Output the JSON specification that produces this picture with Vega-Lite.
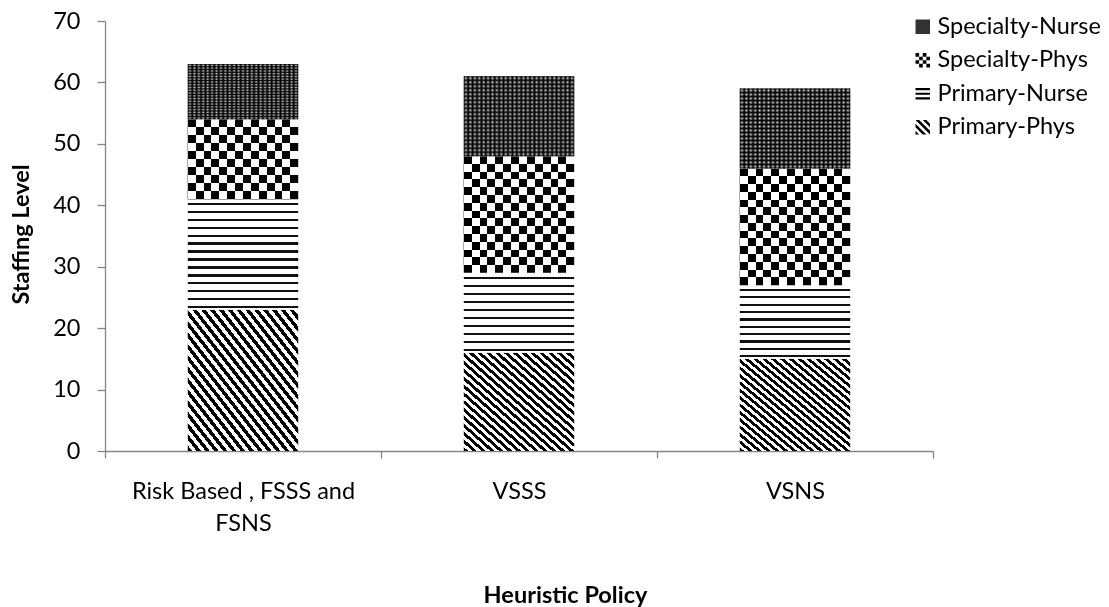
{
  "$schema": "https://vega.github.io/schema/vega-lite/v6.json",
  "autosize": "none",
  "width": 828,
  "height": 430,
  "padding": {"left": 105, "top": 21, "right": 176, "bottom": 156},
  "background": "white",
  "config": {
    "view": {"stroke": null},
    "font": "Lato",
    "axis": {
      "grid": false,
      "labelColor": "#000000",
      "titleColor": "#000000",
      "labelFont": "Lato",
      "titleFont": "Lato",
      "labelFontSize": 23.5,
      "titleFontSize": 23.5,
      "titleFontWeight": "bold",
      "domainColor": "#868686",
      "domainWidth": 1.3,
      "tickColor": "#868686",
      "tickWidth": 1.3,
      "labelFlush": false,
      "labelOverlap": false,
      "labelLimit": 0
    },
    "legend": {"labelFont": "Lato", "labelColor": "#000000"}
  },
  "data": {
    "values": [
      {"policy": "Risk Based , FSSS and FSNS", "series": "Primary-Phys", "value": 23},
      {"policy": "Risk Based , FSSS and FSNS", "series": "Primary-Nurse", "value": 18},
      {"policy": "Risk Based , FSSS and FSNS", "series": "Specialty-Phys", "value": 13},
      {"policy": "Risk Based , FSSS and FSNS", "series": "Specialty-Nurse", "value": 9},
      {"policy": "VSSS", "series": "Primary-Phys", "value": 16},
      {"policy": "VSSS", "series": "Primary-Nurse", "value": 13},
      {"policy": "VSSS", "series": "Specialty-Phys", "value": 19},
      {"policy": "VSSS", "series": "Specialty-Nurse", "value": 13},
      {"policy": "VSNS", "series": "Primary-Phys", "value": 15},
      {"policy": "VSNS", "series": "Primary-Nurse", "value": 12},
      {"policy": "VSNS", "series": "Specialty-Phys", "value": 19},
      {"policy": "VSNS", "series": "Specialty-Nurse", "value": 13}
    ]
  },
  "transform": [
    {"stack": "value", "groupby": ["policy"], "as": ["lo", "hi"]}
  ],
  "encoding": {
    "x": {
      "field": "policy",
      "type": "nominal",
      "sort": null,
      "scale": {"paddingInner": 0, "paddingOuter": 0},
      "axis": {
        "title": "Heuristic Policy",
        "titleX": 460,
        "titleY": 151,
        "titleAlign": "center",
        "titleBaseline": "alphabetic",
        "titleAngle": 0,
        "labelAngle": 0,
        "labelBaseline": "alphabetic",
        "labelPadding": 40,
        "labelLineHeight": 32,
        "labelExpr": "datum.label == 'Risk Based , FSSS and FSNS' ? ['Risk Based , FSSS and', 'FSNS'] : datum.label",
        "tickBand": "extent",
        "tickSize": 7
      }
    },
    "y": {
      "field": "lo",
      "type": "quantitative",
      "scale": {"domain": [0, 70], "nice": false},
      "axis": {
        "title": "Staffing Level",
        "titleX": -77,
        "titleY": 213,
        "titleAngle": -90,
        "titleAlign": "center",
        "titleBaseline": "alphabetic",
        "values": [0, 10, 20, 30, 40, 50, 60, 70],
        "tickSize": 8,
        "labelPadding": 17
      }
    }
  },
  "layer": [
    {
      "mark": {"type": "bar", "width": {"band": 0.4}},
      "encoding": {
        "y2": {"field": "hi"},
        "fill": {
          "condition": [
            {
              "test": "datum.series === 'Primary-Phys'",
              "value": {"gradient": "linear", "x1": 0, "y1": 1, "x2": 1, "y2": 0, "stops": [
                {"offset": 0, "color": "#000000"}, {"offset": 0.02, "color": "#000000"}, {"offset": 0.02, "color": "#ffffff"}, {"offset": 0.04, "color": "#ffffff"},
                {"offset": 0.04, "color": "#000000"}, {"offset": 0.06, "color": "#000000"}, {"offset": 0.06, "color": "#ffffff"}, {"offset": 0.08, "color": "#ffffff"},
                {"offset": 0.08, "color": "#000000"}, {"offset": 0.10, "color": "#000000"}, {"offset": 0.10, "color": "#ffffff"}, {"offset": 0.12, "color": "#ffffff"},
                {"offset": 0.12, "color": "#000000"}, {"offset": 0.14, "color": "#000000"}, {"offset": 0.14, "color": "#ffffff"}, {"offset": 0.16, "color": "#ffffff"},
                {"offset": 0.16, "color": "#000000"}, {"offset": 0.18, "color": "#000000"}, {"offset": 0.18, "color": "#ffffff"}, {"offset": 0.20, "color": "#ffffff"},
                {"offset": 0.20, "color": "#000000"}, {"offset": 0.22, "color": "#000000"}, {"offset": 0.22, "color": "#ffffff"}, {"offset": 0.24, "color": "#ffffff"},
                {"offset": 0.24, "color": "#000000"}, {"offset": 0.26, "color": "#000000"}, {"offset": 0.26, "color": "#ffffff"}, {"offset": 0.28, "color": "#ffffff"},
                {"offset": 0.28, "color": "#000000"}, {"offset": 0.30, "color": "#000000"}, {"offset": 0.30, "color": "#ffffff"}, {"offset": 0.32, "color": "#ffffff"},
                {"offset": 0.32, "color": "#000000"}, {"offset": 0.34, "color": "#000000"}, {"offset": 0.34, "color": "#ffffff"}, {"offset": 0.36, "color": "#ffffff"},
                {"offset": 0.36, "color": "#000000"}, {"offset": 0.38, "color": "#000000"}, {"offset": 0.38, "color": "#ffffff"}, {"offset": 0.40, "color": "#ffffff"},
                {"offset": 0.40, "color": "#000000"}, {"offset": 0.42, "color": "#000000"}, {"offset": 0.42, "color": "#ffffff"}, {"offset": 0.44, "color": "#ffffff"},
                {"offset": 0.44, "color": "#000000"}, {"offset": 0.46, "color": "#000000"}, {"offset": 0.46, "color": "#ffffff"}, {"offset": 0.48, "color": "#ffffff"},
                {"offset": 0.48, "color": "#000000"}, {"offset": 0.50, "color": "#000000"}, {"offset": 0.50, "color": "#ffffff"}, {"offset": 0.52, "color": "#ffffff"},
                {"offset": 0.52, "color": "#000000"}, {"offset": 0.54, "color": "#000000"}, {"offset": 0.54, "color": "#ffffff"}, {"offset": 0.56, "color": "#ffffff"},
                {"offset": 0.56, "color": "#000000"}, {"offset": 0.58, "color": "#000000"}, {"offset": 0.58, "color": "#ffffff"}, {"offset": 0.60, "color": "#ffffff"},
                {"offset": 0.60, "color": "#000000"}, {"offset": 0.62, "color": "#000000"}, {"offset": 0.62, "color": "#ffffff"}, {"offset": 0.64, "color": "#ffffff"},
                {"offset": 0.64, "color": "#000000"}, {"offset": 0.66, "color": "#000000"}, {"offset": 0.66, "color": "#ffffff"}, {"offset": 0.68, "color": "#ffffff"},
                {"offset": 0.68, "color": "#000000"}, {"offset": 0.70, "color": "#000000"}, {"offset": 0.70, "color": "#ffffff"}, {"offset": 0.72, "color": "#ffffff"},
                {"offset": 0.72, "color": "#000000"}, {"offset": 0.74, "color": "#000000"}, {"offset": 0.74, "color": "#ffffff"}, {"offset": 0.76, "color": "#ffffff"},
                {"offset": 0.76, "color": "#000000"}, {"offset": 0.78, "color": "#000000"}, {"offset": 0.78, "color": "#ffffff"}, {"offset": 0.80, "color": "#ffffff"},
                {"offset": 0.80, "color": "#000000"}, {"offset": 0.82, "color": "#000000"}, {"offset": 0.82, "color": "#ffffff"}, {"offset": 0.84, "color": "#ffffff"},
                {"offset": 0.84, "color": "#000000"}, {"offset": 0.86, "color": "#000000"}, {"offset": 0.86, "color": "#ffffff"}, {"offset": 0.88, "color": "#ffffff"},
                {"offset": 0.88, "color": "#000000"}, {"offset": 0.90, "color": "#000000"}, {"offset": 0.90, "color": "#ffffff"}, {"offset": 0.92, "color": "#ffffff"},
                {"offset": 0.92, "color": "#000000"}, {"offset": 0.94, "color": "#000000"}, {"offset": 0.94, "color": "#ffffff"}, {"offset": 0.96, "color": "#ffffff"},
                {"offset": 0.96, "color": "#000000"}, {"offset": 0.98, "color": "#000000"}, {"offset": 0.98, "color": "#ffffff"}, {"offset": 1, "color": "#ffffff"}]}
            },
            {
              "test": "datum.series === 'Primary-Nurse' && datum.policy === 'Risk Based , FSSS and FSNS'",
              "value": {"gradient": "linear", "x1": 0, "y1": 0, "x2": 0, "y2": 1, "stops": [
                {"offset": 0, "color": "#ffffff"}, {"offset": 0.035, "color": "#ffffff"}, {"offset": 0.035, "color": "#111111"}, {"offset": 0.057, "color": "#111111"},
                {"offset": 0.057, "color": "#ffffff"}, {"offset": 0.1064, "color": "#ffffff"}, {"offset": 0.1064, "color": "#111111"}, {"offset": 0.1284, "color": "#111111"},
                {"offset": 0.1284, "color": "#ffffff"}, {"offset": 0.1779, "color": "#ffffff"}, {"offset": 0.1779, "color": "#111111"}, {"offset": 0.1999, "color": "#111111"},
                {"offset": 0.1999, "color": "#ffffff"}, {"offset": 0.2493, "color": "#ffffff"}, {"offset": 0.2493, "color": "#111111"}, {"offset": 0.2713, "color": "#111111"},
                {"offset": 0.2713, "color": "#ffffff"}, {"offset": 0.3207, "color": "#ffffff"}, {"offset": 0.3207, "color": "#111111"}, {"offset": 0.3427, "color": "#111111"},
                {"offset": 0.3427, "color": "#ffffff"}, {"offset": 0.3921, "color": "#ffffff"}, {"offset": 0.3921, "color": "#111111"}, {"offset": 0.4141, "color": "#111111"},
                {"offset": 0.4141, "color": "#ffffff"}, {"offset": 0.4636, "color": "#ffffff"}, {"offset": 0.4636, "color": "#111111"}, {"offset": 0.4856, "color": "#111111"},
                {"offset": 0.4856, "color": "#ffffff"}, {"offset": 0.5350, "color": "#ffffff"}, {"offset": 0.5350, "color": "#111111"}, {"offset": 0.5570, "color": "#111111"},
                {"offset": 0.5570, "color": "#ffffff"}, {"offset": 0.6064, "color": "#ffffff"}, {"offset": 0.6064, "color": "#111111"}, {"offset": 0.6284, "color": "#111111"},
                {"offset": 0.6284, "color": "#ffffff"}, {"offset": 0.6779, "color": "#ffffff"}, {"offset": 0.6779, "color": "#111111"}, {"offset": 0.6999, "color": "#111111"},
                {"offset": 0.6999, "color": "#ffffff"}, {"offset": 0.7493, "color": "#ffffff"}, {"offset": 0.7493, "color": "#111111"}, {"offset": 0.7713, "color": "#111111"},
                {"offset": 0.7713, "color": "#ffffff"}, {"offset": 0.8207, "color": "#ffffff"}, {"offset": 0.8207, "color": "#111111"}, {"offset": 0.8427, "color": "#111111"},
                {"offset": 0.8427, "color": "#ffffff"}, {"offset": 0.8921, "color": "#ffffff"}, {"offset": 0.8921, "color": "#111111"}, {"offset": 0.9141, "color": "#111111"},
                {"offset": 0.9141, "color": "#ffffff"}, {"offset": 0.9636, "color": "#ffffff"}, {"offset": 0.9636, "color": "#111111"}, {"offset": 0.9856, "color": "#111111"},
                {"offset": 0.9856, "color": "#ffffff"}, {"offset": 1, "color": "#ffffff"}]}
            },
            {
              "test": "datum.series === 'Primary-Nurse'",
              "value": {"gradient": "linear", "x1": 0, "y1": 0, "x2": 0, "y2": 1, "stops": [
                {"offset": 0, "color": "#ffffff"}, {"offset": 0.05, "color": "#ffffff"}, {"offset": 0.05, "color": "#111111"}, {"offset": 0.08, "color": "#111111"},
                {"offset": 0.08, "color": "#ffffff"}, {"offset": 0.15, "color": "#ffffff"}, {"offset": 0.15, "color": "#111111"}, {"offset": 0.18, "color": "#111111"},
                {"offset": 0.18, "color": "#ffffff"}, {"offset": 0.25, "color": "#ffffff"}, {"offset": 0.25, "color": "#111111"}, {"offset": 0.28, "color": "#111111"},
                {"offset": 0.28, "color": "#ffffff"}, {"offset": 0.35, "color": "#ffffff"}, {"offset": 0.35, "color": "#111111"}, {"offset": 0.38, "color": "#111111"},
                {"offset": 0.38, "color": "#ffffff"}, {"offset": 0.45, "color": "#ffffff"}, {"offset": 0.45, "color": "#111111"}, {"offset": 0.48, "color": "#111111"},
                {"offset": 0.48, "color": "#ffffff"}, {"offset": 0.55, "color": "#ffffff"}, {"offset": 0.55, "color": "#111111"}, {"offset": 0.58, "color": "#111111"},
                {"offset": 0.58, "color": "#ffffff"}, {"offset": 0.65, "color": "#ffffff"}, {"offset": 0.65, "color": "#111111"}, {"offset": 0.68, "color": "#111111"},
                {"offset": 0.68, "color": "#ffffff"}, {"offset": 0.75, "color": "#ffffff"}, {"offset": 0.75, "color": "#111111"}, {"offset": 0.78, "color": "#111111"},
                {"offset": 0.78, "color": "#ffffff"}, {"offset": 0.85, "color": "#ffffff"}, {"offset": 0.85, "color": "#111111"}, {"offset": 0.88, "color": "#111111"},
                {"offset": 0.88, "color": "#ffffff"}, {"offset": 0.95, "color": "#ffffff"}, {"offset": 0.95, "color": "#111111"}, {"offset": 0.98, "color": "#111111"},
                {"offset": 0.98, "color": "#ffffff"}, {"offset": 1, "color": "#ffffff"}]}
            },
            {
              "test": "datum.series === 'Specialty-Phys' && datum.policy === 'Risk Based , FSSS and FSNS'",
              "value": {"gradient": "linear", "x1": 0, "y1": 0, "x2": 0, "y2": 1, "stops": [
                {"offset": 0, "color": "#ffffff"}, {"offset": 0.1, "color": "#ffffff"}, {"offset": 0.1, "color": "#000000"}, {"offset": 0.2, "color": "#000000"},
                {"offset": 0.2, "color": "#ffffff"}, {"offset": 0.3, "color": "#ffffff"}, {"offset": 0.3, "color": "#000000"}, {"offset": 0.4, "color": "#000000"},
                {"offset": 0.4, "color": "#ffffff"}, {"offset": 0.5, "color": "#ffffff"}, {"offset": 0.5, "color": "#000000"}, {"offset": 0.6, "color": "#000000"},
                {"offset": 0.6, "color": "#ffffff"}, {"offset": 0.7, "color": "#ffffff"}, {"offset": 0.7, "color": "#000000"}, {"offset": 0.8, "color": "#000000"},
                {"offset": 0.8, "color": "#ffffff"}, {"offset": 0.9, "color": "#ffffff"}, {"offset": 0.9, "color": "#000000"}, {"offset": 1, "color": "#000000"}]}
            },
            {
              "test": "datum.series === 'Specialty-Phys'",
              "value": {"gradient": "linear", "x1": 0, "y1": 0, "x2": 0, "y2": 1, "stops": [
                {"offset": 0, "color": "#ffffff"}, {"offset": 0.0667, "color": "#ffffff"}, {"offset": 0.0667, "color": "#000000"}, {"offset": 0.1333, "color": "#000000"},
                {"offset": 0.1333, "color": "#ffffff"}, {"offset": 0.2, "color": "#ffffff"}, {"offset": 0.2, "color": "#000000"}, {"offset": 0.2667, "color": "#000000"},
                {"offset": 0.2667, "color": "#ffffff"}, {"offset": 0.3333, "color": "#ffffff"}, {"offset": 0.3333, "color": "#000000"}, {"offset": 0.4, "color": "#000000"},
                {"offset": 0.4, "color": "#ffffff"}, {"offset": 0.4667, "color": "#ffffff"}, {"offset": 0.4667, "color": "#000000"}, {"offset": 0.5333, "color": "#000000"},
                {"offset": 0.5333, "color": "#ffffff"}, {"offset": 0.6, "color": "#ffffff"}, {"offset": 0.6, "color": "#000000"}, {"offset": 0.6667, "color": "#000000"},
                {"offset": 0.6667, "color": "#ffffff"}, {"offset": 0.7333, "color": "#ffffff"}, {"offset": 0.7333, "color": "#000000"}, {"offset": 0.8, "color": "#000000"},
                {"offset": 0.8, "color": "#ffffff"}, {"offset": 0.8667, "color": "#ffffff"}, {"offset": 0.8667, "color": "#000000"}, {"offset": 0.9333, "color": "#000000"},
                {"offset": 0.9333, "color": "#ffffff"}, {"offset": 1, "color": "#ffffff"}]}
            },
            {
              "test": "datum.series === 'Specialty-Nurse'",
              "value": {"gradient": "linear", "x1": 0, "y1": 0, "x2": 0, "y2": 1, "stops": [
                {"offset": 0, "color": "#111111"}, {"offset": 0.025, "color": "#d0d0d0"}, {"offset": 0.05, "color": "#111111"}, {"offset": 0.075, "color": "#d0d0d0"},
                {"offset": 0.1, "color": "#111111"}, {"offset": 0.125, "color": "#d0d0d0"}, {"offset": 0.15, "color": "#111111"}, {"offset": 0.175, "color": "#d0d0d0"},
                {"offset": 0.2, "color": "#111111"}, {"offset": 0.225, "color": "#d0d0d0"}, {"offset": 0.25, "color": "#111111"}, {"offset": 0.275, "color": "#d0d0d0"},
                {"offset": 0.3, "color": "#111111"}, {"offset": 0.325, "color": "#d0d0d0"}, {"offset": 0.35, "color": "#111111"}, {"offset": 0.375, "color": "#d0d0d0"},
                {"offset": 0.4, "color": "#111111"}, {"offset": 0.425, "color": "#d0d0d0"}, {"offset": 0.45, "color": "#111111"}, {"offset": 0.475, "color": "#d0d0d0"},
                {"offset": 0.5, "color": "#111111"}, {"offset": 0.525, "color": "#d0d0d0"}, {"offset": 0.55, "color": "#111111"}, {"offset": 0.575, "color": "#d0d0d0"},
                {"offset": 0.6, "color": "#111111"}, {"offset": 0.625, "color": "#d0d0d0"}, {"offset": 0.65, "color": "#111111"}, {"offset": 0.675, "color": "#d0d0d0"},
                {"offset": 0.7, "color": "#111111"}, {"offset": 0.725, "color": "#d0d0d0"}, {"offset": 0.75, "color": "#111111"}, {"offset": 0.775, "color": "#d0d0d0"},
                {"offset": 0.8, "color": "#111111"}, {"offset": 0.825, "color": "#d0d0d0"}, {"offset": 0.85, "color": "#111111"}, {"offset": 0.875, "color": "#d0d0d0"},
                {"offset": 0.9, "color": "#111111"}, {"offset": 0.925, "color": "#d0d0d0"}, {"offset": 0.95, "color": "#111111"}, {"offset": 0.975, "color": "#d0d0d0"},
                {"offset": 1, "color": "#111111"}]}
            }
          ],
          "value": "#808080"
        }
      }
    },
    {
      "transform": [{"filter": "datum.series === 'Specialty-Phys'"}],
      "mark": {"type": "bar", "width": {"band": 0.4}, "blend": "difference"},
      "encoding": {
        "y2": {"field": "hi"},
        "fill": {
          "value": {"gradient": "linear", "x1": 0, "y1": 0, "x2": 1, "y2": 0, "stops": [
            {"offset": 0, "color": "#ffffff"}, {"offset": 0.0714, "color": "#ffffff"}, {"offset": 0.0714, "color": "#000000"}, {"offset": 0.1429, "color": "#000000"},
            {"offset": 0.1429, "color": "#ffffff"}, {"offset": 0.2143, "color": "#ffffff"}, {"offset": 0.2143, "color": "#000000"}, {"offset": 0.2857, "color": "#000000"},
            {"offset": 0.2857, "color": "#ffffff"}, {"offset": 0.3571, "color": "#ffffff"}, {"offset": 0.3571, "color": "#000000"}, {"offset": 0.4286, "color": "#000000"},
            {"offset": 0.4286, "color": "#ffffff"}, {"offset": 0.5, "color": "#ffffff"}, {"offset": 0.5, "color": "#000000"}, {"offset": 0.5714, "color": "#000000"},
            {"offset": 0.5714, "color": "#ffffff"}, {"offset": 0.6429, "color": "#ffffff"}, {"offset": 0.6429, "color": "#000000"}, {"offset": 0.7143, "color": "#000000"},
            {"offset": 0.7143, "color": "#ffffff"}, {"offset": 0.7857, "color": "#ffffff"}, {"offset": 0.7857, "color": "#000000"}, {"offset": 0.8571, "color": "#000000"},
            {"offset": 0.8571, "color": "#ffffff"}, {"offset": 0.9286, "color": "#ffffff"}, {"offset": 0.9286, "color": "#000000"}, {"offset": 1, "color": "#000000"}]}
        }
      }
    },
    {
      "transform": [{"filter": "datum.series === 'Specialty-Nurse'"}],
      "mark": {"type": "bar", "width": {"band": 0.4}, "blend": "multiply"},
      "encoding": {
        "y2": {"field": "hi"},
        "fill": {
          "value": {"gradient": "linear", "x1": 0, "y1": 0, "x2": 1, "y2": 0, "stops": [
            {"offset": 0, "color": "#000000"}, {"offset": 0.02, "color": "#ffffff"}, {"offset": 0.04, "color": "#000000"}, {"offset": 0.06, "color": "#ffffff"},
            {"offset": 0.08, "color": "#000000"}, {"offset": 0.10, "color": "#ffffff"}, {"offset": 0.12, "color": "#000000"}, {"offset": 0.14, "color": "#ffffff"},
            {"offset": 0.16, "color": "#000000"}, {"offset": 0.18, "color": "#ffffff"}, {"offset": 0.20, "color": "#000000"}, {"offset": 0.22, "color": "#ffffff"},
            {"offset": 0.24, "color": "#000000"}, {"offset": 0.26, "color": "#ffffff"}, {"offset": 0.28, "color": "#000000"}, {"offset": 0.30, "color": "#ffffff"},
            {"offset": 0.32, "color": "#000000"}, {"offset": 0.34, "color": "#ffffff"}, {"offset": 0.36, "color": "#000000"}, {"offset": 0.38, "color": "#ffffff"},
            {"offset": 0.40, "color": "#000000"}, {"offset": 0.42, "color": "#ffffff"}, {"offset": 0.44, "color": "#000000"}, {"offset": 0.46, "color": "#ffffff"},
            {"offset": 0.48, "color": "#000000"}, {"offset": 0.50, "color": "#ffffff"}, {"offset": 0.52, "color": "#000000"}, {"offset": 0.54, "color": "#ffffff"},
            {"offset": 0.56, "color": "#000000"}, {"offset": 0.58, "color": "#ffffff"}, {"offset": 0.60, "color": "#000000"}, {"offset": 0.62, "color": "#ffffff"},
            {"offset": 0.64, "color": "#000000"}, {"offset": 0.66, "color": "#ffffff"}, {"offset": 0.68, "color": "#000000"}, {"offset": 0.70, "color": "#ffffff"},
            {"offset": 0.72, "color": "#000000"}, {"offset": 0.74, "color": "#ffffff"}, {"offset": 0.76, "color": "#000000"}, {"offset": 0.78, "color": "#ffffff"},
            {"offset": 0.80, "color": "#000000"}, {"offset": 0.82, "color": "#ffffff"}, {"offset": 0.84, "color": "#000000"}, {"offset": 0.86, "color": "#ffffff"},
            {"offset": 0.88, "color": "#000000"}, {"offset": 0.90, "color": "#ffffff"}, {"offset": 0.92, "color": "#000000"}, {"offset": 0.94, "color": "#ffffff"},
            {"offset": 0.96, "color": "#000000"}, {"offset": 0.98, "color": "#ffffff"}, {"offset": 1, "color": "#000000"}]}
        }
      }
    },
    {
      "transform": [{"filter": "false"}],
      "mark": {"type": "point", "filled": true, "opacity": 1, "strokeWidth": 0},
      "encoding": {
        "fill": {
          "field": "series",
          "type": "nominal",
          "scale": {
            "domain": ["Specialty-Nurse", "Specialty-Phys", "Primary-Nurse", "Primary-Phys"],
            "range": ["#333333", "#000000", "#000000", "#000000"]
          },
          "legend": {
            "title": null,
            "orient": "none",
            "legendX": 806,
            "legendY": -6,
            "symbolSize": 210,
            "symbolStrokeWidth": 0,
            "labelFontSize": 23.5,
            "labelOffset": 3,
            "rowPadding": 8.5,
            "labelLimit": 0
          }
        },
        "shape": {
          "field": "series",
          "type": "nominal",
          "scale": {
            "domain": ["Specialty-Nurse", "Specialty-Phys", "Primary-Nurse", "Primary-Phys"],
            "range": [
              "M-1,-1H1V1H-1Z",
              "M-1,-1h0.5v0.5h-0.5z M0,-1h0.5v0.5h-0.5z M-0.5,-0.5h0.5v0.5h-0.5z M0.5,-0.5h0.5v0.5h-0.5z M-1,0h0.5v0.5h-0.5z M0,0h0.5v0.5h-0.5z M-0.5,0.5h0.5v0.5h-0.5z M0.5,0.5h0.5v0.5h-0.5z",
              "M-1,-0.8H1V-0.5H-1Z M-1,-0.15H1V0.15H-1Z M-1,0.5H1V0.8H-1Z",
              "M-1,0.5L-1,1L-0.5,1Z M-1,-0.5L-1,0L0,1L0.5,1Z M-1,-1L-0.5,-1L1,0.5L1,1Z M0,-1L0.5,-1L1,-0.5L1,0Z"
            ]
          },
          "legend": {
            "title": null,
            "orient": "none",
            "legendX": 806,
            "legendY": -6,
            "symbolSize": 210,
            "symbolStrokeWidth": 0,
            "labelFontSize": 23.5,
            "labelOffset": 3,
            "rowPadding": 8.5,
            "labelLimit": 0
          }
        }
      }
    }
  ]
}
